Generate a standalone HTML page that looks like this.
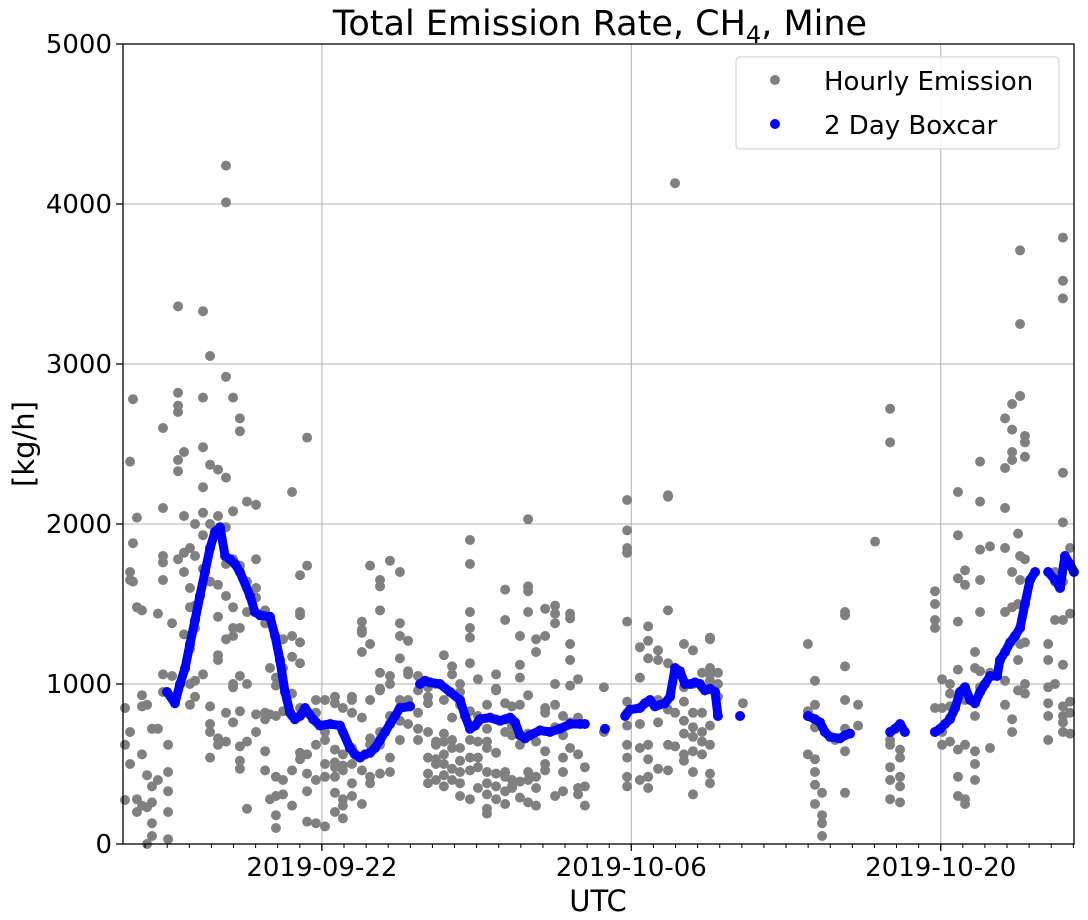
<!DOCTYPE html>
<html><head><meta charset="utf-8"><style>
body{margin:0;background:#fff}
svg{display:block;font-family:"DejaVu Sans","Liberation Sans",sans-serif}
</style></head><body>
<svg id="chart" width="1088" height="920" viewBox="0 0 1088 920" xmlns="http://www.w3.org/2000/svg">
<rect width="1088" height="920" fill="#fff"/>
<text x="600" y="35" font-size="35" text-anchor="middle">Total Emission Rate, CH<tspan font-size="24" dy="8">4</tspan><tspan dy="-8">, Mine</tspan></text>
<g id="grid"></g>
<g id="hourly"></g>
<g id="boxcar"></g>
<rect x="123" y="44" width="951" height="800" fill="none" stroke="#000" stroke-width="1.3"/>
<g id="axes"></g>
<text transform="translate(34,444) rotate(-90)" font-size="29" text-anchor="middle">[kg/h]</text>
<text x="598" y="911" font-size="29" text-anchor="middle">UTC</text>
<g>
<rect x="736" y="57" width="323" height="92" rx="4" fill="#fff" fill-opacity="0.85" stroke="#ccc"/>
<circle cx="775" cy="80" r="5" fill="#808080"/>
<text x="824" y="90" font-size="26">Hourly Emission</text>
<circle cx="775" cy="124" r="5" fill="#0000ff"/>
<text x="824" y="134" font-size="26">2 Day Boxcar</text>
</g>
</svg>
<script>
const yTicks=[0,1000,2000,3000,4000,5000];
const xTickDays=[9,23,37];
const xTickLabels=["2019-09-22","2019-10-06","2019-10-20"];
const hourDays=[0.09,0.32,0.45,0.63,0.86,1.09,1.31,1.58,1.81,2.04,2.22,2.49,2.76,3.03,3.26,3.62,3.94,4.30,4.66,4.98,5.29,5.61,6.02,6.43,6.65,6.92,7.24,7.65,8.01,8.33,8.73,9.14,9.59,9.95,10.36,10.81,11.18,11.63,12.08,12.53,12.90,13.35,13.80,14.16,14.52,14.89,15.25,15.70,16.06,16.47,16.88,17.29,17.60,17.96,18.33,18.69,19.10,19.55,19.91,20.23,20.59,20.90,21.76,22.81,23.39,23.76,24.21,24.66,24.98,25.38,25.79,26.20,26.56,26.92,28.05,30.99,31.31,31.63,32.22,32.67,33.26,34.03,34.71,35.16,36.74,37.06,37.42,37.78,38.10,38.55,38.78,39.23,39.91,40.23,40.50,40.59,40.81,41.86,42.17,42.53,42.85];
const hourVals=[[275,850,620],[700,500,1700,2390,1650],[2780,1880,1640],[2040,1480,280,200],[930,1460,860,240,560],[230,430,870,0],[360,130,50,720,260],[1440,720,400],[2600,2100,1800,1760,1650,1060,950],[450,200,30,620,330],[1380,1050],[3360,2820,2700,2740,2400,2330,1780],[2450,2050,1820,1700,1310],[1850,1600,1480,1220,1000,870],[2000,1800,1490,1350,920,1020],[3330,2790,2480,2230,2070,1930,1720,1060],[3050,2370,2000,1640,750,540,700,860],[2340,2050,1150,1180,1420,1620,660,620],[4010,4240,2920,2290,1980,1750,1550,1280,820,640],[2790,2080,1780,1480,1350,1300,1000,980,760],[2660,2580,1740,1350,1050,830,610,470,520],[2140,1640,1450,640,1000,220],[2120,1780,1540,1600,700,810],[1460,1380,820,780,460,580],[1100,810,280],[1040,990,800,420,180,300,100],[1280,1100,830,310,400],[2200,1300,1170,940,800,460,240],[1680,1450,1430,1260,1130,850,530,570],[2540,1740,820,560,440,330,140],[900,820,620,400,130],[500,420,650,700,900,110],[920,880,590,510,480,420,320,200],[850,700,560,490,460,280,240,160],[920,900,820,600,500,380,300],[1390,1340,1320,1200,790,460,250],[1740,1250,900,660,620,420,380],[1650,1610,1460,1070,970,960,700,620,440],[1770,1050,1000,800,540,450],[1700,1380,1300,1160,900,770,650],[1270,1080,1060,900,750],[1050,960,820,720,650],[980,920,880,700,540,440,380],[1000,640,620,530,500,400],[1180,900,690,640,560,500,430,360],[1110,1060,790,650,600,470,400],[1000,950,870,600,520,450,380,300],[1750,1900,1450,1350,1290,1130,830,650,540,460,280],[1030,800,760,640,540,480,350],[870,720,640,600,450,380,310,220,190],[1060,970,960,780,570,440,360,280],[1590,1400,880,700,450,420,330,250],[860,780,740,680,400,360,350],[1300,1120,1040,870,620,390,290],[2030,1610,1580,1450,930,690,450,400,260],[1280,1200,640,420,350,240],[1470,1300,820,850,580,500,460],[1490,1440,1380,1000,870,730,300],[800,680,540,450,330],[1440,1410,1250,1150,990,760,600],[1030,790,560,350,310],[480,360,240],[980,700],[2150,1960,1850,1820,1390,890,820,740,620,540,420,360],[1230,1040,750,600,400],[1360,1270,1160,890,620,530,420,350],[1210,1150,900,760,470],[2180,2170,1460,1130,840,620,460],[4130,1060,820,610],[1250,980,890,770,690,560,520],[1210,1000,820,730,670,580,450,310],[1070,980,820,700,640,560],[1290,1280,1100,1060,1020,740,620,440,380],[1070,1000,920],[880],[1250,830,560],[1020,870,730,530,450,370,250],[320,180,130,50],[650],[1450,1430,1110,900,720,580,320],[870,740],[1890],[2720,2510,650,620,480,400,280],[590,540,420,360,260],[1580,1500,1400,1350,850,700],[1030,850,700,620],[1000,940,860,790,640],[2200,1930,1660,1390,1090,590,420,300],[1710,1620,960,900,620,280,250],[1200,1100,800,580,500,400],[2390,2140,1840,1650,1450,1080,980],[1860,1070,600],[2660,2350,2100,1850,1450,1020,870],[2750,2590,2400,2450,1700,1480,780,700],[1940,1500,1150,960],[3710,3250,2800,2800,1800,1650,1250],[2550,2510,2420,1780,1260,1000,940],[1250,1150,980,880,800,650],[1700,1640,1400,1000],[3790,3520,3410,2320,2010,1640,1400,1120,860,800,760,700],[1850,1440,890,690,820]];
const boxDays=[1.99,2.35,2.58,2.81,3.03,3.26,3.48,3.71,3.94,4.16,4.39,4.62,4.84,5.07,5.29,5.75,5.97,6.20,6.65,6.88,7.10,7.33,7.56,7.78,8.01,8.24,8.60,8.91,9.37,9.82,10.27,10.50,10.72,10.95,11.18,11.40,11.63,11.86,12.08,12.31,12.53,12.99,null,13.44,13.67,13.89,14.34,14.80,15.25,15.48,15.70,15.93,16.15,16.61,17.06,17.29,17.51,17.74,17.96,18.19,18.42,18.87,19.32,19.77,20.23,20.68,20.90,null,21.81,null,22.72,22.94,23.39,23.62,23.85,24.07,24.52,24.75,24.98,25.20,25.43,25.66,25.88,26.11,26.33,26.56,26.79,26.92,null,27.92,null,30.99,31.31,31.54,31.76,31.99,32.44,32.67,32.90,null,34.71,34.93,35.16,35.38,null,36.74,36.97,37.19,37.42,37.65,37.87,38.10,38.33,38.55,38.78,39.00,39.23,39.55,39.68,39.91,40.14,40.36,40.59,40.81,41.04,41.27,null,41.86,42.17,42.40,42.62,42.85,43.03];
const boxVals=[950,880,1000,1100,1250,1400,1550,1700,1850,1950,1980,1800,1780,1750,1700,1550,1450,1430,1420,1300,1150,950,820,780,800,850,780,740,750,740,600,560,540,560,570,600,650,700,750,800,850,860,null,1000,1020,1010,1000,950,900,800,720,740,780,790,770,780,790,760,680,660,680,710,700,720,750,750,750,null,720,null,800,840,850,880,900,860,880,920,1100,1080,1000,1000,1010,1000,960,970,950,800,null,800,null,800,780,760,700,670,660,680,690,null,700,720,750,700,null,700,720,750,780,850,950,980,900,880,950,1000,1050,1050,1150,1200,1260,1300,1350,1500,1650,1700,null,1700,1650,1600,1800,1750,1700];

const NS="http://www.w3.org/2000/svg";
const X0=123,X1=1074,Y0=844,Y1=44,DMAX=43.03,VMAX=5000;
const xs=d=>X0+d*(X1-X0)/DMAX;
const ys=v=>Y0-v*(Y0-Y1)/VMAX;
function mk(tag,attrs,parent){const e=document.createElementNS(NS,tag);for(const k in attrs)e.setAttribute(k,attrs[k]);parent.appendChild(e);return e;}
const grid=document.getElementById('grid'),axes=document.getElementById('axes');
yTicks.forEach(v=>{
  const l=mk('line',{x1:X0,x2:X1,y1:ys(v),y2:ys(v),stroke:'#b0b0b0','stroke-width':1},grid);
  
  
  mk('line',{x1:X0-7,x2:X0,y1:ys(v),y2:ys(v),stroke:'#000','stroke-width':1.3},axes);
  const t=mk('text',{x:X0-11,y:ys(v)+9,'font-size':26,'text-anchor':'end'},axes);
  t.textContent=v;
  
  
});
for(let d=1;d<DMAX;d++){mk('line',{x1:xs(d),x2:xs(d),y1:Y0,y2:Y0+4,stroke:'#000','stroke-width':1},axes);}
xTickDays.forEach((d,i)=>{
  const l=mk('line',{x1:xs(d),x2:xs(d),y1:Y1,y2:Y0,stroke:'#b0b0b0','stroke-width':1},grid);
  
  
  mk('line',{x1:xs(d),x2:xs(d),y1:Y0,y2:Y0+7,stroke:'#000','stroke-width':1.3},axes);
  const t=mk('text',{x:xs(d),y:Y0+32,'font-size':26,'text-anchor':'middle'},axes);
  t.textContent=xTickLabels[i];
  
  
});
const hg=document.getElementById('hourly');
hourDays.forEach((d,i)=>{hourVals[i].forEach(v=>{
  const c=mk('circle',{cx:xs(d),cy:ys(v),r:5,fill:'#808080'},hg);
  
  
});});
const bg=document.getElementById('boxcar');
let seg=[];
function flush(){if(seg.length>1){const p=mk('polyline',{points:seg.join(' '),fill:'none',stroke:'#0000ff','stroke-width':9,'stroke-linecap':'round','stroke-linejoin':'round'},bg);
  
  }seg=[];}
boxDays.forEach((d,i)=>{
  if(d===null){flush();return;}
  seg.push(xs(d)+','+ys(boxVals[i]));
  const c=mk('circle',{cx:xs(d),cy:ys(boxVals[i]),r:5,fill:'#0000ff'},bg);
  
  
});
flush();
</script>
</body></html>
